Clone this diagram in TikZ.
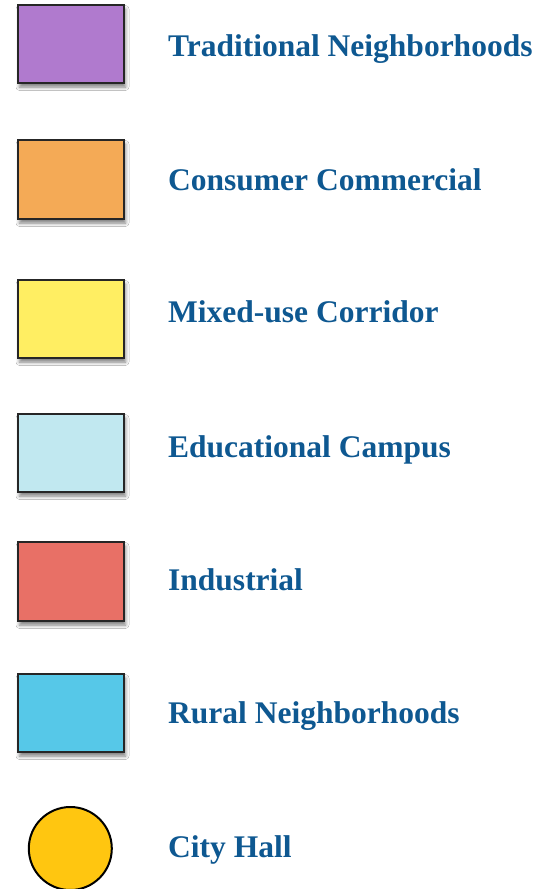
\documentclass[tikz,border=0pt]{standalone}
\usepackage{fontspec}
\setmainfont{Liberation Serif}
\usetikzlibrary{shadows.blur}
\definecolor{labelblue}{RGB}{14,88,145}
\definecolor{cTrad}{RGB}{176,122,206}
\definecolor{cCons}{RGB}{244,170,86}
\definecolor{cMixed}{RGB}{255,238,98}
\definecolor{cEdu}{RGB}{193,232,240}
\definecolor{cInd}{RGB}{232,112,102}
\definecolor{cRural}{RGB}{86,200,232}
\definecolor{cHall}{RGB}{255,198,16}
\begin{document}
\begin{tikzpicture}[x=1pt,y=-1pt,
  swatch/.style={draw=black!85, line width=1.1pt,
    blur shadow={shadow xshift=1.5pt, shadow yshift=-4pt, shadow blur radius=3.5pt, shadow opacity=50}},
  legendlabel/.style={anchor=base west, inner sep=0pt, text=labelblue,
    font=\fontsize{31.5}{36}\selectfont\bfseries}]
\useasboundingbox (0,0) rectangle (553,889);
\fill[white] (0,0) rectangle (553,889);

% colour swatches
\filldraw[swatch, fill=cTrad]  (18,5)   rectangle (124,83);
\filldraw[swatch, fill=cCons]  (18,140) rectangle (124,219);
\filldraw[swatch, fill=cMixed] (18,280) rectangle (124,358);
\filldraw[swatch, fill=cEdu]   (18,414) rectangle (124,492);
\filldraw[swatch, fill=cInd]   (18,542) rectangle (124,621);
\filldraw[swatch, fill=cRural] (18,674) rectangle (124,752);
\draw[line width=2pt, fill=cHall] (70.3,848.5) circle (41.5);

% labels
\node[legendlabel] (t1) at (168,56)    {Traditional Neighborhoods};
\node[legendlabel] (t2) at (168,190)   {Consumer Commercial};
\node[legendlabel] (t3) at (168,322.7) {Mixed-use Corridor};
\node[legendlabel] (t4) at (168,457)   {Educational Campus};
\node[legendlabel] (t5) at (168,590)   {Industrial};
\node[legendlabel] (t6) at (168,723)   {Rural Neighborhoods};
\node[legendlabel] (t7) at (168,857)   {City Hall};
\end{tikzpicture}
\end{document}
